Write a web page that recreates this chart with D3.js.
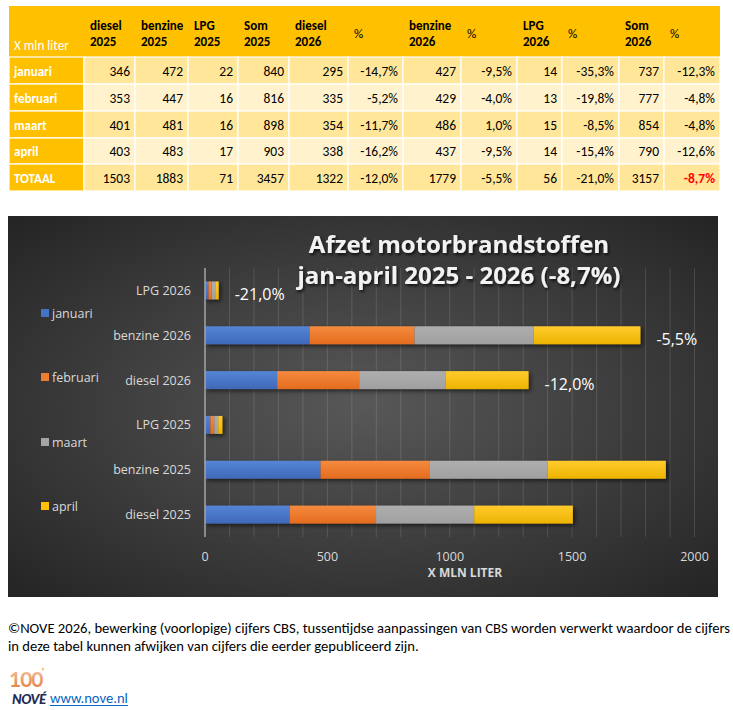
<!DOCTYPE html>
<html><head><meta charset="utf-8">
<script src="https://cdn.jsdelivr.net/npm/d3@7"></script>
<style>
html,body{margin:0;padding:0;background:#fff;}
svg{display:block;}
</style></head>
<body>
<svg id="c" width="733" height="710"></svg>
<script>
// ---------- DATA ----------
const months = ["januari", "februari", "maart", "april"];
const rowLabels = ["januari", "februari", "maart", "april", "TOTAAL"];
const diesel2025 = [346, 353, 401, 403, 1503];
const benzine2025 = [472, 447, 481, 483, 1883];
const lpg2025 = [22, 16, 16, 17, 71];
const som2025 = [840, 816, 898, 903, 3457];
const diesel2026 = [295, 335, 354, 338, 1322];
const dieselPct = ["-14,7%", "-5,2%", "-11,7%", "-16,2%", "-12,0%"];
const benzine2026 = [427, 429, 486, 437, 1779];
const benzinePct = ["-9,5%", "-4,0%", "1,0%", "-9,5%", "-5,5%"];
const lpg2026 = [14, 13, 15, 14, 56];
const lpgPct = ["-35,3%", "-19,8%", "-8,5%", "-15,4%", "-21,0%"];
const som2026 = [737, 777, 854, 790, 3157];
const somPct = ["-12,3%", "-4,8%", "-4,8%", "-12,6%", "-8,7%"];
const headerLabels = [["X mln liter"], ["diesel", "2025"], ["benzine", "2025"], ["LPG", "2025"], ["Som", "2025"],
  ["diesel", "2026"], ["%"], ["benzine", "2026"], ["%"], ["LPG", "2026"], ["%"], ["Som", "2026"], ["%"]];
const categories = ["diesel 2025", "benzine 2025", "LPG 2025", "diesel 2026", "benzine 2026", "LPG 2026"];
const categorySource = [diesel2025, benzine2025, lpg2025, diesel2026, benzine2026, lpg2026];
const categoryChange = [null, null, null, dieselPct[4], benzinePct[4], lpgPct[4]];
const xTicks = [0, 500, 1000, 1500, 2000];
const chartTitle = ["Afzet motorbrandstoffen", "jan-april 2025 - 2026 (-8,7%)"];
const axisTitle = "X MLN LITER";
const footnote = ["©NOVE 2026, bewerking (voorlopige) cijfers CBS, tussentijdse aanpassingen van CBS worden verwerkt waardoor de cijfers",
  "in deze tabel kunnen afwijken van cijfers die eerder gepubliceerd zijn."];
const linkText = "www.nove.nl";

// ---------- SETUP ----------
const svg = d3.select("#c");
const defs = svg.append("defs");
const TF = "Carlito, Lato, sans-serif";
const CF = "'Open Sans', sans-serif";

// ---------- TABLE ----------
const colEdges = [9, 84, 135, 188, 238, 289, 348, 403, 461, 517, 562, 619, 664, 720];
const rowEdges = [6, 57, 84, 111, 138, 164, 191];
const tableCols = [rowLabels, diesel2025, benzine2025, lpg2025, som2025, diesel2026, dieselPct,
  benzine2026, benzinePct, lpg2026, lpgPct, som2026, somPct];
const tbl = svg.append("g");
tbl.append("rect").attr("x", colEdges[0]).attr("y", rowEdges[0])
  .attr("width", colEdges[13] - colEdges[0]).attr("height", rowEdges[1] - rowEdges[0]).attr("fill", "#FFC000");
headerLabels.forEach((h, ci) => {
  const x = colEdges[ci] + 6;
  if (ci === 0) {
    tbl.append("text").attr("x", colEdges[0] + 5).attr("y", 49.5).attr("fill", "#fff")
      .attr("font-family", TF).attr("font-size", 13.2).text(h[0]);
  } else if (h.length === 1) {
    tbl.append("text").attr("x", x).attr("y", 37.5).attr("fill", "#000")
      .attr("font-family", TF).attr("font-size", 13).text(h[0]);
  } else {
    tbl.append("text").attr("x", x).attr("y", 30).attr("fill", "#000").attr("font-weight", "bold")
      .attr("font-family", TF).attr("font-size", 13).text(h[0]);
    tbl.append("text").attr("x", x).attr("y", 45.5).attr("fill", "#000").attr("font-weight", "bold")
      .attr("font-family", TF).attr("font-size", 13).text(h[1]);
  }
});
rowLabels.forEach((r, ri) => {
  const y0 = rowEdges[ri + 1], y1 = rowEdges[ri + 2];
  tableCols.forEach((col, ci) => {
    const x0 = colEdges[ci], x1 = colEdges[ci + 1];
    const fill = ci === 0 ? "#FFC000" : (ri % 2 === 0 ? "#FFE699" : "#FFF2CC");
    tbl.append("rect").attr("x", x0).attr("y", y0).attr("width", x1 - x0).attr("height", y1 - y0)
      .attr("fill", fill).attr("stroke", "#fff").attr("stroke-width", 1.2);
    const t = tbl.append("text").attr("y", (y0 + y1) / 2 + 5).attr("font-family", TF).attr("font-size", 13.5);
    if (ci === 0) {
      t.attr("x", x0 + 5).attr("fill", "#fff").attr("font-weight", "bold").attr("font-size", 13).text(col[ri]);
    } else {
      const isRed = (col === somPct && ri === 4);
      t.attr("x", x1 - 5).attr("text-anchor", "end").attr("fill", isRed ? "#FF0000" : "#000")
        .attr("font-weight", isRed ? "bold" : "normal").text(col[ri]);
    }
  });
});

// ---------- CHART ----------
const CH = {x: 8, y: 216, w: 710, h: 381};
const bg = defs.append("radialGradient").attr("id", "bg").attr("cx", "50%").attr("cy", "50%").attr("r", "72%");
bg.append("stop").attr("offset", "0%").attr("stop-color", "#585858");
bg.append("stop").attr("offset", "100%").attr("stop-color", "#232323");
svg.append("rect").attr("x", CH.x).attr("y", CH.y).attr("width", CH.w).attr("height", CH.h).attr("fill", "url(#bg)");

const sh = defs.append("filter").attr("id", "sh").attr("x", "-20%").attr("y", "-50%").attr("width", "140%").attr("height", "200%");
sh.append("feDropShadow").attr("dx", 2).attr("dy", 2).attr("stdDeviation", 2).attr("flood-color", "#000").attr("flood-opacity", 0.6);
const tsh = defs.append("filter").attr("id", "tsh").attr("x", "-10%").attr("y", "-30%").attr("width", "120%").attr("height", "160%");
tsh.append("feDropShadow").attr("dx", 1.5).attr("dy", 2).attr("stdDeviation", 1.5).attr("flood-color", "#000").attr("flood-opacity", 0.75);

const seriesColors = [["#5585D6", "#3F69B8"], ["#F58A3E", "#E46C1E"], ["#AEAEAE", "#A0A0A0"], ["#FFCB2E", "#EDB300"]];
const legendColors = ["#4472C4", "#ED7D31", "#A5A5A5", "#FFC000"];
seriesColors.forEach((c, i) => {
  const g = defs.append("linearGradient").attr("id", "g" + i).attr("x1", 0).attr("y1", 0).attr("x2", 0).attr("y2", 1);
  g.append("stop").attr("offset", "0%").attr("stop-color", c[0]);
  g.append("stop").attr("offset", "100%").attr("stop-color", c[1]);
});

const x = d3.scaleLinear().domain([0, 2000]).range([205, 694.5]);
const y = d3.scaleBand().domain(categories.slice().reverse()).range([268, 537]).paddingInner(0.6).paddingOuter(0.3);

svg.append("g").selectAll("line").data(d3.range(100, 2001, 100)).join("line")
  .attr("x1", d => x(d)).attr("x2", d => x(d)).attr("y1", 268).attr("y2", 537)
  .attr("stroke", "#fff").attr("stroke-opacity", 0.13).attr("stroke-width", 1);

const stackData = categories.map((c, i) => {
  const o = {cat: c};
  months.forEach((m, j) => o[m] = categorySource[i][j]);
  return o;
});
const stacked = d3.stack().keys(months)(stackData);
const barG = svg.append("g").attr("filter", "url(#sh)");
stacked.forEach((s, si) => {
  barG.append("g").selectAll("rect").data(s).join("rect")
    .attr("x", d => x(d[0])).attr("width", d => x(d[1]) - x(d[0]))
    .attr("y", d => y(d.data.cat)).attr("height", y.bandwidth())
    .attr("fill", "url(#g" + si + ")");
});

svg.append("line").attr("x1", x(0)).attr("x2", x(0)).attr("y1", 268).attr("y2", 537)
  .attr("stroke", "#A6A6A6").attr("stroke-width", 1.5);

categories.forEach((c, i) => {
  if (!categoryChange[i]) return;
  const total = d3.sum(categorySource[i].slice(0, 4));
  svg.append("text").attr("x", x(total) + 16).attr("y", y(c) + y.bandwidth() / 2 + 10)
    .attr("fill", "#fff").attr("font-family", CF).attr("font-size", 16).text(categoryChange[i]);
});

svg.append("g").selectAll("text").data(categories).join("text")
  .attr("x", 191).attr("y", d => y(d) + y.bandwidth() / 2 + 4.5).attr("text-anchor", "end")
  .attr("fill", "#D9D9D9").attr("font-family", CF).attr("font-size", 12.5).text(d => d);

svg.append("g").selectAll("text").data(xTicks).join("text")
  .attr("x", d => x(d)).attr("y", 561).attr("text-anchor", "middle")
  .attr("fill", "#D9D9D9").attr("font-family", CF).attr("font-size", 12.5).text(d => d);

svg.append("text").attr("x", 465).attr("y", 577).attr("text-anchor", "middle")
  .attr("fill", "#D9D9D9").attr("font-family", CF).attr("font-weight", "bold").attr("font-size", 12).text(axisTitle);

chartTitle.forEach((t, i) => {
  svg.append("text").attr("x", 459).attr("y", 253 + i * 31).attr("text-anchor", "middle")
    .attr("fill", "#F2F2F2").attr("font-family", CF).attr("font-weight", "bold").attr("font-size", 24)
    .attr("filter", "url(#tsh)").text(t);
});

const legY = [313, 377, 442, 506];
months.forEach((m, i) => {
  svg.append("rect").attr("x", 41).attr("y", legY[i] - 4).attr("width", 8).attr("height", 8).attr("fill", legendColors[i]);
  svg.append("text").attr("x", 52).attr("y", legY[i] + 4.5).attr("fill", "#D9D9D9")
    .attr("font-family", CF).attr("font-size", 12.5).text(m);
});

// ---------- FOOTER ----------
const f1 = svg.append("text").attr("x", 8).attr("y", 633).attr("fill", "#000").attr("font-family", TF).attr("font-size", 13).text(footnote[0]);
const len = f1.node().getComputedTextLength();
const fs = 13 * 723 / len;
f1.attr("font-size", fs);
svg.append("text").attr("x", 8).attr("y", 651).attr("fill", "#000").attr("font-family", TF).attr("font-size", fs).text(footnote[1]);

// logo
const lg = defs.append("linearGradient").attr("id", "lg").attr("x1", 0).attr("y1", 0).attr("x2", 0).attr("y2", 1);
lg.append("stop").attr("offset", "0%").attr("stop-color", "#F6C9A6");
lg.append("stop").attr("offset", "100%").attr("stop-color", "#E07A3A");
svg.append("text").attr("x", 9).attr("y", 687).attr("fill", "url(#lg)").attr("font-family", "Lato, sans-serif")
  .attr("font-weight", "bold").attr("font-size", 21).attr("letter-spacing", -1).text("100");
svg.append("text").attr("x", 42).attr("y", 675).attr("fill", "#E07A3A").attr("font-family", "Lato, sans-serif")
  .attr("font-weight", "bold").attr("font-size", 9).text("'");
svg.append("text").attr("x", 12).attr("y", 704).attr("fill", "#1F2A55").attr("font-family", "Lato, sans-serif")
  .attr("font-weight", "900").attr("font-style", "italic").attr("font-size", 13.5).attr("letter-spacing", -0.5).text("NOVÉ");
const lk = svg.append("text").attr("x", 50).attr("y", 703).attr("fill", "#0563C1").attr("font-family", TF)
  .attr("font-size", fs).text(linkText);
const lw = lk.node().getComputedTextLength();
svg.append("line").attr("x1", 50).attr("x2", 50 + lw).attr("y1", 705.5).attr("y2", 705.5).attr("stroke", "#0563C1").attr("stroke-width", 1);
</script>
</body></html>
